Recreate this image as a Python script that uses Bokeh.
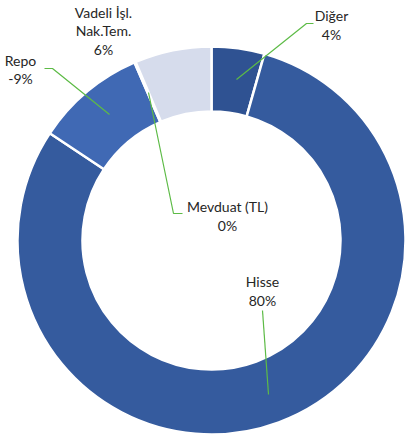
import math
from bokeh.plotting import figure
from bokeh.models import Range1d, ColumnDataSource
from bokeh.core.properties import value
from bokeh.embed import file_html
from bokeh.resources import INLINE

# ---- data ----
names = ["Diğer", "Hisse", "Repo", "Mevduat (TL)", "Vadeli İşl.\nNak.Tem."]
values = [4.4, 80.0, -9.2, 0.1, 6.4]          # share of portfolio (%)
pct_labels = ["4%", "80%", "-9%", "0%", "6%"]
colors = ["#2F5292", "#355B9E", "#4069B4", "#4A72BC", "#D6DCEC"]

# ---- layout (image pixel coordinates of the reference) ----
CX, CY = 211, 240
R_OUT, R_IN = 194, 129
W, H = 406, 439


def to_data(ix, iy):
    return ix - CX, CY - iy


p = figure(width=W, height=H, output_backend="svg", toolbar_location=None,
           x_range=Range1d(-CX, W - CX), y_range=Range1d(CY - H, CY),
           min_border=0, outline_line_color=None, background_fill_color="white")
p.axis.visible = False
p.grid.visible = False

total = sum(abs(v) for v in values)
starts, ends = [], []
cum = 0.0
for v in values:
    a0 = math.pi / 2 - cum / total * 2 * math.pi
    cum += abs(v)
    a1 = math.pi / 2 - cum / total * 2 * math.pi
    starts.append(a0)
    ends.append(a1)

src = ColumnDataSource(dict(start=starts, end=ends, color=colors))
p.annular_wedge(x=0, y=0, inner_radius=R_IN, outer_radius=R_OUT,
                start_angle="start", end_angle="end", direction="clock",
                fill_color="color", line_color="white", line_width=2.5, source=src)

# leader lines (image coords)
leaders = [
    [(236, 79), (306, 23), (313, 23)],      # Diğer
    [(262, 310), (268, 394)],               # Hisse
    [(44, 68), (52, 68), (109, 114)],       # Repo
    [(148, 92), (173, 213), (182, 213)],    # Mevduat
]
for pts in leaders:
    xs, ys = zip(*[to_data(*q) for q in pts])
    p.line(list(xs), list(ys), line_color="#5DBB46", line_width=1.2)

# label centers (image coords)
label_pos = [(331, 24.5), (262, 290.5), (20, 69), (227, 215.5), (103, 30.5)]
lx, ly, lt = [], [], []
for (ix, iy), n, pl in zip(label_pos, names, pct_labels):
    dx, dy = to_data(ix, iy)
    lx.append(dx)
    ly.append(dy)
    lt.append(n + "\n" + pl)

p.text(x=lx, y=ly, text=lt, text_align="center", text_baseline="middle",
       text_font=value("Lato"), text_font_size="14px", text_color="#262626",
       text_line_height=1.1)

open("out.html", "w").write(file_html(p, INLINE))
